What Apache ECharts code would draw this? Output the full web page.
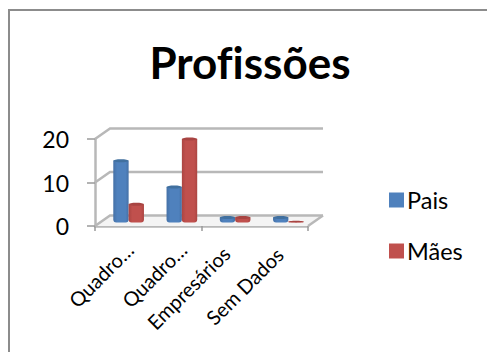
<!DOCTYPE html>
<html>
<head>
<meta charset="utf-8">
<style>
html,body{margin:0;padding:0;background:#fff}
#c{width:487px;height:352px}
#c text{font-variant-ligatures:none}
</style>
<script src="https://cdn.jsdelivr.net/npm/echarts@6/dist/echarts.min.js"></script>
</head>
<body>
<div id="c"></div>
<script>
const categories = ['Quadro…', 'Quadro…', 'Empresários', 'Sem Dados'];
const pais = [14.5, 8.5, 1.5, 1.5];
const maes = [4.5, 19.5, 1.5, 0.4];
const yTicks = [0, 10, 20];

const FONT = 'Lato, "Open Sans", sans-serif';
const WALL_GREY = '#b8b8b8';
const DEPTH_X = 15, DEPTH_Y = 10.5;

// Back wall lines and their diagonals to the front axis, giving the chart its depth.
function renderWall(params, api) {
  const rect = params.coordSys;
  const val = api.value(0);
  const y = api.coord([0, val])[1];
  const x0 = rect.x, x1 = rect.x + rect.width;
  const children = [{
    type: 'polyline',
    shape: { points: [[x0, y], [x0 + DEPTH_X, y - DEPTH_Y], [x1 + DEPTH_X, y - DEPTH_Y]] },
    style: { fill: 'none', stroke: WALL_GREY, lineWidth: 2.5 }
  }];
  if (val === 0) {
    children.push({
      type: 'polyline',
      shape: { points: [[x1, y], [x1 + DEPTH_X, y - DEPTH_Y]] },
      style: { fill: 'none', stroke: WALL_GREY, lineWidth: 2.5 }
    });
    children.push({
      type: 'polygon',
      shape: { points: [[x0, y], [x0 + DEPTH_X, y - DEPTH_Y], [x1 + DEPTH_X, y - DEPTH_Y], [x1, y]] },
      style: { fill: '#f4f4f4' },
      z2: -1
    });
  }
  return { type: 'group', children };
}

// Rounded cylindrical column standing on the floor of the chart.
function columnRenderer(side, base, edge, cap) {
  return function (params, api) {
    const band = api.size([1, 0])[0];
    const center = api.coord([api.value(0), 0])[0];
    const w = band * 0.288;
    const floor = api.coord([0, 0])[1] - 3.6;
    const h = api.coord([0, 0])[1] - api.coord([0, api.value(1)])[1];
    const left = center + 7 + (side === 0 ? -w : 0);
    const top = floor - h;
    const capH = Math.min(3, Math.max(h, 1.4));
    return {
      type: 'group',
      children: [{
        type: 'rect',
        shape: { x: left, y: top + capH / 2, width: w, height: Math.max(h - capH / 2, 0.5), r: [0, 0, 3, 3] },
        style: {
          fill: {
            type: 'linear', x: 0, y: 0, x2: 1, y2: 0,
            colorStops: [
              { offset: 0, color: edge },
              { offset: 0.25, color: base },
              { offset: 0.8, color: base },
              { offset: 1, color: edge }
            ]
          }
        }
      }, {
        type: 'ellipse',
        shape: { cx: left + w / 2, cy: top + capH / 2, rx: w / 2, ry: capH / 2 },
        style: { fill: cap }
      }]
    };
  };
}

// Slanted category names; each ends just below and to the right of its band centre.
const LABEL_END_DX = [8, 8, -2, -2];
const LABEL_END_DY = [20, 20, 24, 25];
function renderCategoryLabel(params, api) {
  const i = api.value(0);
  const p = api.coord([i, 0]);
  return {
    type: 'text',
    rotation: Math.PI / 4,
    x: p[0] + LABEL_END_DX[i],
    y: p[1] + LABEL_END_DY[i],
    style: {
      text: categories[i],
      fill: '#000',
      font: '20px ' + FONT,
      align: 'right',
      verticalAlign: 'middle'
    }
  };
}

const chart = echarts.init(document.getElementById('c'), null, { renderer: 'svg' });
chart.setOption({
  animation: false,
  backgroundColor: '#ffffff',
  title: {
    text: 'Profissões',
    left: 245,
    top: 35,
    textAlign: 'center',
    textStyle: { fontFamily: FONT, fontSize: 44, fontWeight: 'bold', color: '#000' }
  },
  legend: {
    orient: 'vertical',
    left: 384,
    top: 183,
    itemWidth: 15,
    itemHeight: 15,
    itemGap: 27,
    icon: 'rect',
    data: ['Pais', 'Mães'],
    textStyle: { fontFamily: FONT, fontSize: 23.5, color: '#000', padding: [0, 0, 0, -2] }
  },
  grid: { left: 95, top: 139, width: 213, height: 87 },
  xAxis: {
    type: 'category',
    data: categories,
    boundaryGap: true,
    axisLine: { show: true, lineStyle: { color: WALL_GREY, width: 2.5 } },
    axisTick: { show: true, alignWithLabel: false, length: 5, lineStyle: { color: '#9a9a9a', width: 1.5 } },
    axisLabel: { show: false }
  },
  yAxis: {
    type: 'value',
    min: 0, max: 20, interval: 10,
    splitLine: { show: false },
    axisLine: { show: true, lineStyle: { color: WALL_GREY, width: 2.5 } },
    axisTick: { show: true, length: 8, lineStyle: { color: '#9a9a9a', width: 1.5 } },
    axisLabel: { color: '#000', fontFamily: FONT, fontSize: 23, margin: 26 }
  },
  series: [
    {
      type: 'custom', silent: true, z: 1,
      renderItem: renderWall,
      encode: { y: 0 },
      data: yTicks.map(v => [v])
    },
    {
      name: 'Pais', type: 'custom', z: 3,
      renderItem: columnRenderer(0, '#4f81bd', '#4470a6', '#41709f'),
      itemStyle: { color: '#4f81bd' },
      encode: { x: 0, y: 1 },
      data: pais.map((v, i) => [i, v])
    },
    {
      name: 'Mães', type: 'custom', z: 3,
      renderItem: columnRenderer(1, '#c0504d', '#ab4542', '#a84442'),
      itemStyle: { color: '#c0504d' },
      encode: { x: 0, y: 1 },
      data: maes.map((v, i) => [i, v])
    },
    {
      type: 'custom', silent: true, z: 4,
      renderItem: renderCategoryLabel,
      encode: { x: 0 },
      data: categories.map((c, i) => [i])
    }
  ],
  graphic: [{
    type: 'polyline',
    silent: true,
    shape: { points: [[9, 352], [9, 10], [487, 10]] },
    style: { fill: 'none', stroke: '#8c8c8c', lineWidth: 2 }
  }]
});
</script>
</body>
</html>
